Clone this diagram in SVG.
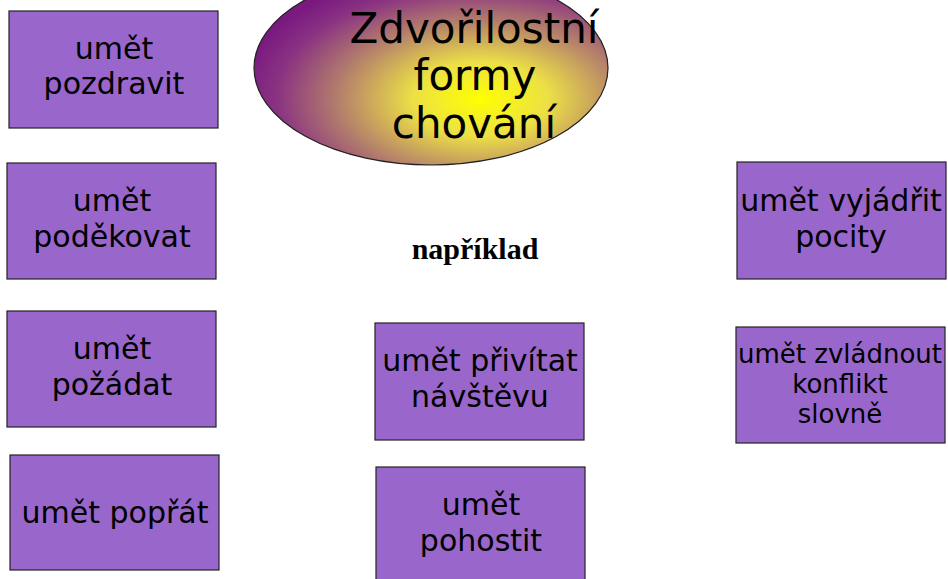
<svg xmlns="http://www.w3.org/2000/svg" width="948" height="579" viewBox="0 0 948 579">
<defs>
<radialGradient id="g" cx="0.64" cy="0.66" r="0.68">
<stop offset="0" stop-color="#ffff00"/>
<stop offset="0.28" stop-color="#ece046"/>
<stop offset="0.6" stop-color="#b27c6c"/>
<stop offset="0.85" stop-color="#8a3282"/>
<stop offset="1" stop-color="#7a1a80"/>
</radialGradient>
</defs>
<style>
.b{fill:#9966cc;stroke:#222;stroke-width:1.2}
.t{font-family:"DejaVu Sans",sans-serif;font-size:30px;fill:#000;text-anchor:middle}
.s{font-size:26px}
</style>
<rect width="948" height="579" fill="#fff"/>
<g id="title">
<ellipse cx="431" cy="68" rx="177" ry="97" fill="url(#g)" stroke="#222" stroke-width="1.2"/>
<text class="t" style="font-size:42px" x="474" y="43">Zdvořilostní</text>
<text class="t" style="font-size:42px" x="475" y="90">formy</text>
<text class="t" style="font-size:42px" x="474" y="138">chování</text>
</g>
<g id="priklad"><text x="475" y="259" font-family="Liberation Serif,serif" font-weight="bold" font-size="30" text-anchor="middle">například</text></g>
<g id="n1"><rect class="b" x="9" y="11" width="209" height="117"/><text class="t" x="114" y="59">umět</text><text class="t" x="114" y="94">pozdravit</text></g>
<g id="n2"><rect class="b" x="7" y="163" width="209" height="116"/><text class="t" x="112" y="211">umět</text><text class="t" x="112" y="247">poděkovat</text></g>
<g id="n3"><rect class="b" x="7" y="311" width="209" height="116"/><text class="t" x="112" y="359">umět</text><text class="t" x="112" y="395">požádat</text></g>
<g id="n4"><rect class="b" x="10" y="455" width="209" height="115"/><text class="t" x="115" y="523">umět popřát</text></g>
<g id="n5"><rect class="b" x="375" y="323" width="209" height="117"/><text class="t" x="480" y="371">umět přivítat</text><text class="t" x="480" y="407">návštěvu</text></g>
<g id="n6"><rect class="b" x="376" y="467" width="209" height="116"/><text class="t" x="481" y="515">umět</text><text class="t" x="481" y="551">pohostit</text></g>
<g id="n7"><rect class="b" x="737" y="162" width="209" height="117"/><text class="t" x="841" y="211">umět vyjádřit</text><text class="t" x="841" y="247">pocity</text></g>
<g id="n8"><rect class="b" x="736" y="327" width="209" height="116"/><text class="t s" x="840" y="363">umět zvládnout</text><text class="t s" x="840" y="393">konflikt</text><text class="t s" x="840" y="423">slovně</text></g>
<g id="connectors"/>
</svg>
